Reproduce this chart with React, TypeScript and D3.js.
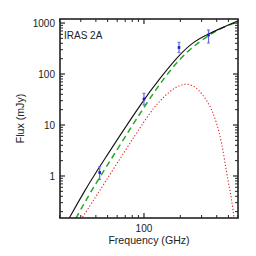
import React from "react";
import * as d3 from "d3";

// Total model (black solid)
const totalFreq = [22, 24.1, 32.5, 42.7, 100, 135.5, 195, 255.8, 343, 483, 596, 610];
const totalFlux = [0.1, 0.15, 0.53, 1.5, 32.4, 82, 236, 430, 620, 880, 1094, 1120];

// Component 1 (green dashed)
const greenFreq = [25, 27.4, 36.9, 53, 108.5, 164, 232.6, 330, 425.6, 596, 610];
const greenFlux = [0.1, 0.15, 0.53, 2.06, 30.9, 120, 295, 538, 788, 1060, 1080];

// Component 2 (red dotted)
const redFreq = [28, 30.8, 43.3, 112, 133.8, 164, 198.7, 225.5, 264, 309.6, 363, 399.8, 439.6, 483, 515, 542, 556, 565];
const redFlux = [0.11, 0.15, 0.53, 18.2, 28.6, 47, 60.8, 64.5, 58, 38.7, 21.2, 10.8, 4.7, 1.13, 0.53, 0.25, 0.15, 0.1];

// Observed points
const obsFreq = [43, 100, 195, 342];
const obsFlux = [1.17, 32.4, 331, 582];
const obsLow = [0.85, 24.7, 262, 406];
const obsHigh = [1.52, 41.9, 419, 730];

const yTickValues = [1, 10, 100, 1000];
const yTickLabels = ["1", "10", "100", "1000"];
const xTickValues = [100];
const xTickLabels = ["100"];

const xDomain = [20, 600];
const yDomain = [0.15, 1200];

export default function App() {
  const L = 60, R = 238, T = 19, B = 218;
  const x = d3.scaleLog().domain(xDomain).range([L - 0.5, R]);
  const y = d3.scaleLog().domain(yDomain).range([B, T]);

  const mk = (fs: number[], vs: number[]) =>
    d3.line<number>().x((_, i) => x(fs[i])).y((_, i) => y(vs[i])).curve(d3.curveBasis)(fs) || "";

  const font = "'Liberation Sans', Arial, sans-serif";
  const axisColor = "#222";

  const yMinor: number[] = [];
  for (let e = -1; e <= 3; e++) {
    for (let m = 2; m <= 9; m++) {
      const v = m * Math.pow(10, e);
      if (v >= yDomain[0] && v <= yDomain[1]) yMinor.push(v);
    }
  }
  const xMinor: number[] = [];
  for (let e = 1; e <= 2; e++) {
    for (let m = 2; m <= 9; m++) {
      const v = m * Math.pow(10, e);
      if (v >= xDomain[0] && v <= xDomain[1]) xMinor.push(v);
    }
  }
  const maj = 5, mnr = 3;

  return (
    <svg width={256} height={256} style={{ position: "absolute", left: 0, top: 0, background: "#fff" }}>
      <defs>
        <clipPath id="plot">
          <rect x={L} y={T} width={R - L} height={B - T} />
        </clipPath>
      </defs>
      <g clipPath="url(#plot)" fill="none">
        <path d={mk(redFreq, redFlux)} stroke="#dd2222" strokeWidth={1.1} strokeDasharray="1.2,2" />
        <path d={mk(greenFreq, greenFlux)} stroke="#22aa22" strokeWidth={1.5} strokeDasharray="6,4" />
        <path d={mk(totalFreq, totalFlux)} stroke="#111" strokeWidth={1.1} />
      </g>
      {obsFreq.map((f, i) => (
        <g key={i}>
          <line x1={x(f)} x2={x(f)} y1={y(obsLow[i])} y2={y(obsHigh[i])} stroke="#6666dd" strokeWidth={1.2} />
          <line x1={x(f) - 1.5} x2={x(f) + 1.5} y1={y(obsLow[i])} y2={y(obsLow[i])} stroke="#6666dd" strokeWidth={1} />
          <line x1={x(f) - 1.5} x2={x(f) + 1.5} y1={y(obsHigh[i])} y2={y(obsHigh[i])} stroke="#6666dd" strokeWidth={1} />
          <rect x={x(f) - 1.3} y={y(obsFlux[i]) - 1.3} width={2.6} height={2.6} fill="#1a1acc" />
        </g>
      ))}
      <rect x={L} y={T} width={R - L} height={B - T} fill="none" stroke={axisColor} strokeWidth={1.6} />
      {yTickValues.map((v) => (
        <g key={"ym" + v}>
          <line x1={L} x2={L + maj} y1={y(v)} y2={y(v)} stroke={axisColor} strokeWidth={1.2} />
          <line x1={R} x2={R - maj} y1={y(v)} y2={y(v)} stroke={axisColor} strokeWidth={1.2} />
        </g>
      ))}
      {yMinor.map((v) => (
        <g key={"yn" + v}>
          <line x1={L} x2={L + mnr} y1={y(v)} y2={y(v)} stroke={axisColor} strokeWidth={1} />
          <line x1={R} x2={R - mnr} y1={y(v)} y2={y(v)} stroke={axisColor} strokeWidth={1} />
        </g>
      ))}
      {xTickValues.map((v) => (
        <g key={"xm" + v}>
          <line x1={x(v)} x2={x(v)} y1={B} y2={B - maj} stroke={axisColor} strokeWidth={1.2} />
          <line x1={x(v)} x2={x(v)} y1={T} y2={T + maj} stroke={axisColor} strokeWidth={1.2} />
        </g>
      ))}
      {xMinor.map((v) => (
        <g key={"xn" + v}>
          <line x1={x(v)} x2={x(v)} y1={B} y2={B - mnr} stroke={axisColor} strokeWidth={1} />
          <line x1={x(v)} x2={x(v)} y1={T} y2={T + mnr} stroke={axisColor} strokeWidth={1} />
        </g>
      ))}
      {yTickValues.map((v, i) => (
        <text key={"yl" + v} x={55} y={y(v)} dy="0.36em" textAnchor="end" fontFamily={font} fontSize={10} fill="#222">
          {yTickLabels[i]}
        </text>
      ))}
      {xTickValues.map((v, i) => (
        <text key={"xl" + v} x={x(v)} y={232} textAnchor="middle" fontFamily={font} fontSize={10} fill="#222">
          {xTickLabels[i]}
        </text>
      ))}
      <text x={(L + R) / 2} y={243.5} textAnchor="middle" fontFamily={font} fontSize={10.6} fill="#222">
        Frequency (GHz)
      </text>
      <text transform={`translate(23.5,${(T + B) / 2}) rotate(-90)`} textAnchor="middle" fontFamily={font} fontSize={10.6} fill="#222">
        Flux (mJy)
      </text>
      <text x={64} y={38.5} fontFamily={font} fontSize={10} fill="#222">
        IRAS 2A
      </text>
    </svg>
  );
}
